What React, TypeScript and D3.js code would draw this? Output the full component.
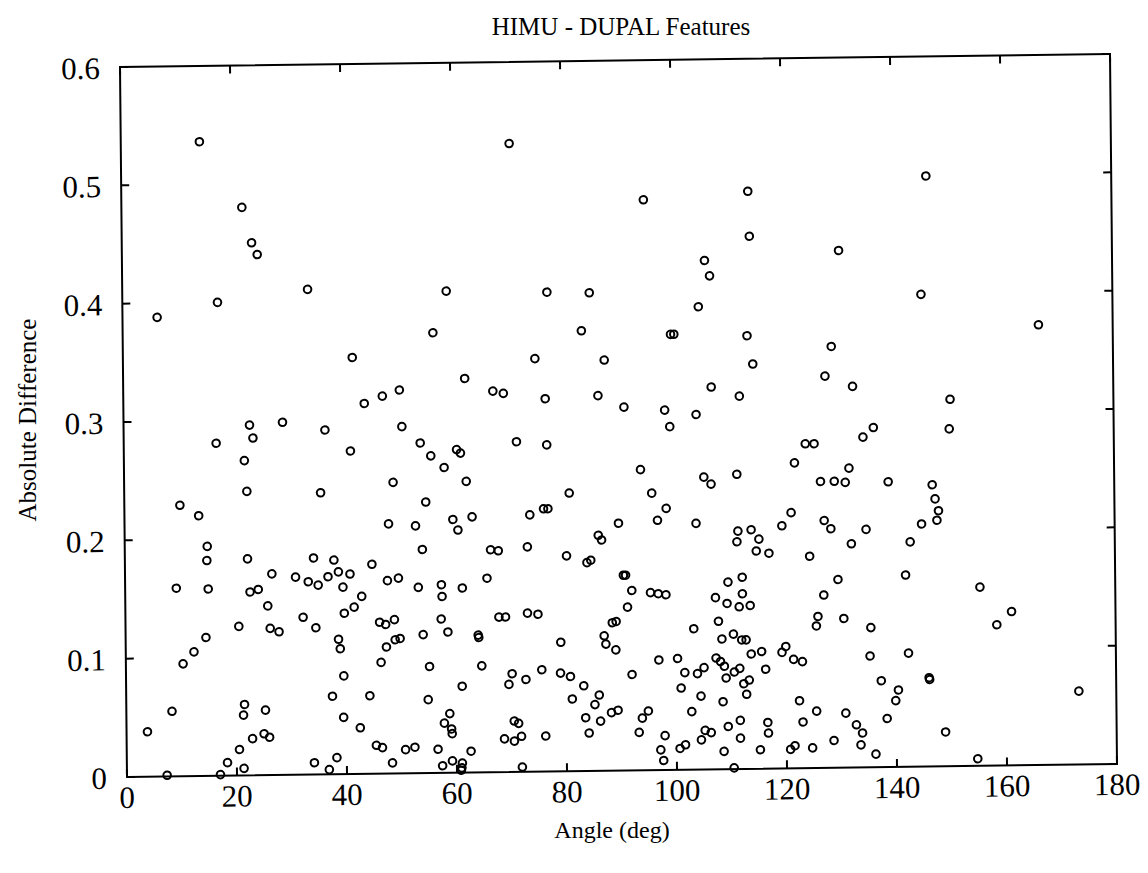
import React from "react";
import * as d3 from "d3";

// Angle (deg) and Absolute Difference for each feature pair
const angle = [
  14.3, 21.9, 23.6, 24.6, 33.7, 17.3,
  70.6, 58.9, 77.2, 84.9,
  94.9, 113.9, 114.1, 130.3, 105.9, 106.8, 104.7,
  146.3, 145.2,
  6.3, 41.7, 43.8, 22.9, 28.9, 36.6, 23.5, 16.8, 41.2, 21.9, 22.3, 35.7, 10.1, 13.5,
  56.4, 83.4, 74.9, 87.5, 62.1, 47.1, 50.2, 67.2, 69.1, 76.7, 86.3, 91.0, 50.6, 53.9, 60.5, 61.2, 55.8, 58.2,
  71.4, 76.9, 48.9, 62.2, 54.8, 80.9, 48.0, 52.9, 59.7, 60.6, 63.2, 73.7, 76.2, 77.0, 89.8, 86.1, 86.7,
  99.6, 100.2, 113.5, 128.8, 114.5, 127.6, 132.6, 106.9, 112.0, 98.4, 104.1, 99.3, 134.4, 123.9, 125.5,
  121.9, 131.8, 93.9, 105.4, 106.7, 111.4, 126.6, 129.1, 131.1, 95.9, 98.5, 96.9, 103.9, 121.2, 119.5,
  127.2, 128.4, 134.8, 111.5, 113.9, 115.3, 111.3, 132.1,
  166.5, 150.3, 136.3, 150.1, 138.9, 146.9, 147.4, 148.0, 147.7, 144.9, 142.8,
  15.0, 14.9, 22.3, 34.3, 38.0, 44.9, 26.7, 31.0, 33.3, 35.1, 36.9, 38.8, 40.9, 9.3, 15.1, 22.7, 24.2,
  39.6, 43.0, 41.6, 39.8, 25.9, 32.3, 34.6, 20.6, 26.3, 27.9, 14.6, 12.4, 10.4, 38.7, 39.0, 39.6, 37.5,
  44.3, 8.3, 3.8, 21.5, 21.3, 25.3, 39.5, 42.5, 22.9, 25.0, 26.0, 20.5, 18.3, 21.3, 7.3, 17.0, 34.1, 36.8, 38.2,
  54.1, 66.5, 67.9, 73.2, 80.3, 84.0, 84.7, 47.7, 49.7, 53.3, 57.5, 57.6, 61.3, 65.8, 46.2, 47.3, 48.9,
  57.4, 47.4, 49.0, 49.9, 54.1, 58.6, 64.1, 64.2, 67.9, 69.1, 73.1, 75.0, 79.1, 88.5, 89.2, 87.0, 87.3,
  89.1, 46.4, 55.2, 64.7, 70.2, 69.6, 72.7, 75.6, 79.0, 80.8, 83.2, 86.0, 85.2, 81.1, 83.5, 86.2, 88.2,
  89.4, 84.1, 61.1, 54.9, 58.8, 57.8, 59.1, 59.2, 70.5, 71.3, 68.7, 70.5, 71.8, 76.2, 45.4, 46.5, 50.7,
  52.4, 56.6, 62.6, 48.3, 57.4, 59.2, 61.0, 60.9, 60.8, 71.9,
  114.8, 117.1, 124.5, 90.6, 91.0, 92.1, 91.3, 95.5, 96.9, 98.3, 92.0, 96.9, 100.3, 103.3, 107.3, 109.6,
  112.2, 109.4, 112.2, 111.6, 113.6, 107.8, 108.4, 110.5, 112.0, 112.8, 113.7, 115.6, 119.3, 120.0, 121.4,
  123.0, 116.3, 107.3, 108.1, 108.8, 110.6, 111.6, 109.1, 112.3, 113.3, 112.8, 101.6, 103.9, 105.1, 100.9,
  104.5, 108.5, 102.8, 94.9, 93.8, 93.2, 97.9, 97.1, 97.6, 100.6, 101.6, 104.5, 105.2, 106.3, 109.4, 111.6,
  111.6, 108.6, 110.4, 116.6, 116.7, 115.2, 120.7, 121.5, 122.4, 123.0, 124.7, 125.5, 127.0, 129.6, 125.9,
  125.6, 130.6, 135.5, 135.3, 130.8, 132.7, 133.8, 128.6, 133.5,
  141.9, 155.4, 161.1, 158.4, 142.3, 146.0, 146.1, 137.3, 140.4, 139.9, 138.3, 136.2, 148.9, 154.7, 173.2,
];

const diff = [
  0.536, 0.480, 0.450, 0.440, 0.410, 0.400,
  0.531, 0.407, 0.405, 0.404,
  0.482, 0.488, 0.450, 0.437, 0.430, 0.417, 0.391,
  0.499, 0.399,
  0.388, 0.352, 0.313, 0.296, 0.298, 0.291, 0.285, 0.281, 0.273, 0.266, 0.240, 0.238, 0.229, 0.220,
  0.372, 0.372, 0.349, 0.347, 0.333, 0.319, 0.324, 0.322, 0.320, 0.315, 0.317, 0.307, 0.293, 0.279, 0.273, 0.270, 0.268, 0.258,
  0.279, 0.276, 0.246, 0.246, 0.229, 0.235, 0.211, 0.209, 0.214, 0.205, 0.216, 0.217, 0.222, 0.222, 0.209, 0.199, 0.195,
  0.368, 0.368, 0.366, 0.356, 0.342, 0.331, 0.322, 0.323, 0.315, 0.304, 0.300, 0.290, 0.279, 0.274, 0.274,
  0.258, 0.253, 0.254, 0.247, 0.241, 0.249, 0.242, 0.242, 0.241, 0.234, 0.221, 0.211, 0.208, 0.216, 0.205,
  0.209, 0.202, 0.201, 0.201, 0.202, 0.194, 0.192, 0.189,
  0.372, 0.310, 0.287, 0.285, 0.241, 0.238, 0.226, 0.216, 0.208, 0.205, 0.190,
  0.194, 0.182, 0.183, 0.183, 0.181, 0.177, 0.170, 0.167, 0.163, 0.160, 0.167, 0.171, 0.169, 0.159, 0.158, 0.155, 0.157,
  0.158, 0.150, 0.141, 0.136, 0.143, 0.133, 0.124, 0.126, 0.124, 0.121, 0.117, 0.105, 0.095, 0.114, 0.106, 0.083, 0.066,
  0.066, 0.055, 0.038, 0.060, 0.051, 0.055, 0.048, 0.039, 0.031, 0.035, 0.032, 0.022, 0.011, 0.006, 0.001, 0.001, 0.010, 0.004, 0.014,
  0.189, 0.188, 0.187, 0.190, 0.182, 0.176, 0.178, 0.163, 0.165, 0.157, 0.159, 0.149, 0.156, 0.164, 0.128, 0.126, 0.130,
  0.130, 0.107, 0.113, 0.114, 0.117, 0.119, 0.116, 0.114, 0.131, 0.131, 0.134, 0.133, 0.109, 0.125, 0.126, 0.114, 0.107,
  0.102, 0.094, 0.090, 0.090, 0.083, 0.074, 0.078, 0.086, 0.083, 0.080, 0.072, 0.064, 0.056, 0.061, 0.045, 0.042, 0.049,
  0.051, 0.032, 0.073, 0.062, 0.050, 0.042, 0.037, 0.033, 0.043, 0.041, 0.028, 0.026, 0.030, 0.030, 0.024, 0.022, 0.020,
  0.022, 0.020, 0.018, 0.009, 0.006, 0.010, 0.008, 0.004, 0.002, 0.004,
  0.184, 0.182, 0.179, 0.165, 0.165, 0.152, 0.138, 0.150, 0.149, 0.148, 0.081, 0.093, 0.094, 0.119, 0.145, 0.158,
  0.162, 0.140, 0.148, 0.137, 0.138, 0.125, 0.110, 0.114, 0.109, 0.109, 0.097, 0.099, 0.098, 0.103, 0.092,
  0.090, 0.084, 0.094, 0.091, 0.087, 0.082, 0.085, 0.077, 0.072, 0.075, 0.063, 0.082, 0.081, 0.086, 0.069,
  0.062, 0.057, 0.049, 0.050, 0.044, 0.032, 0.029, 0.017, 0.008, 0.018, 0.021, 0.025, 0.033, 0.031, 0.036, 0.041,
  0.026, 0.015, 0.001, 0.039, 0.030, 0.016, 0.016, 0.019, 0.057, 0.039, 0.017, 0.048, 0.146, 0.159, 0.128,
  0.120, 0.126, 0.118, 0.094, 0.046, 0.036, 0.029, 0.023, 0.019,
  0.162, 0.151, 0.130, 0.119, 0.096, 0.075, 0.0735, 0.073, 0.065, 0.056, 0.041, 0.011, 0.029, 0.006, 0.062,
];

const xTicks = [0, 20, 40, 60, 80, 100, 120, 140, 160, 180];
const yTicks = [0, 0.1, 0.2, 0.3, 0.4, 0.5, 0.6];
const yTickLabels = ["0", "0.1", "0.2", "0.3", "0.4", "0.5", "0.6"];
const title = "HIMU - DUPAL Features";
const xLabel = "Angle (deg)";
const yLabel = "Absolute Difference";

const FONT = "'Liberation Serif', 'Times New Roman', serif";

export default function App() {
  const x = d3.scaleLinear().domain([0, 180]).range([127, 1117]);
  const y = d3.scaleLinear().domain([0, 0.6]).range([777, 67]);
  const [x0, x1] = x.range();
  const [y0, y1] = y.range();
  const tl = 8;
  const pts = angle.map((a, i) => ({ a, d: diff[i] }));
  // the scanned page is slightly skewed
  const skew = `matrix(1,-0.01313,0.00986,1,${-0.00986 * 777},${0.01313 * 127})`;

  return (
    <svg
      width={1148}
      height={873}
      style={{ position: "absolute", left: 0, top: 0, background: "#fff" }}
      fontFamily={FONT}
    >
      <rect width={1148} height={873} fill="#fff" />
      <text x={621} y={35} textAnchor="middle" fontSize={25} fill="#000">
        {title}
      </text>
      <text x={612} y={838} textAnchor="middle" fontSize={24} fill="#000">
        {xLabel}
      </text>
      <text
        transform={`translate(30,420) rotate(-90)`}
        textAnchor="middle"
        dominantBaseline="middle"
        fontSize={25}
        fill="#000"
      >
        {yLabel}
      </text>
      <g transform={skew}>
        <rect
          x={x0}
          y={y1}
          width={x1 - x0}
          height={y0 - y1}
          fill="none"
          stroke="#000"
          strokeWidth={2}
        />
        {xTicks.map((t) => (
          <g key={"xt" + t}>
            <line x1={x(t)} x2={x(t)} y1={y0} y2={y0 - tl} stroke="#000" strokeWidth={2} />
            <line x1={x(t)} x2={x(t)} y1={y1} y2={y1 + tl} stroke="#000" strokeWidth={2} />
            <text x={x(t)} y={y0 + 31} textAnchor="middle" fontSize={31} fill="#000">
              {t}
            </text>
          </g>
        ))}
        {yTicks.map((t, i) => (
          <g key={"yt" + t}>
            <line x1={x0} x2={x0 + tl} y1={y(t)} y2={y(t)} stroke="#000" strokeWidth={2} />
            <line x1={x1} x2={x1 - tl} y1={y(t)} y2={y(t)} stroke="#000" strokeWidth={2} />
            <text
              x={x0 - 20}
              y={y(t) + 1}
              textAnchor="end"
              dominantBaseline="central"
              fontSize={31}
              fill="#000"
            >
              {yTickLabels[i]}
            </text>
          </g>
        ))}
        {pts.map((p, i) => (
          <circle
            key={i}
            cx={x(p.a)}
            cy={y(p.d)}
            r={3.8}
            fill="none"
            stroke="#000"
            strokeWidth={2}
          />
        ))}
      </g>
    </svg>
  );
}
